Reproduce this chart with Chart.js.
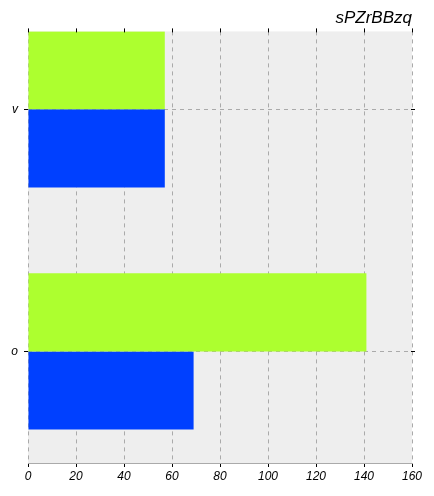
<!DOCTYPE html>
<html>
<head>
<meta charset="utf-8">
<script src="https://cdn.jsdelivr.net/npm/chart.js@4/dist/chart.umd.min.js"></script>
<style>
html,body{margin:0;padding:0;background:#fff;}
#wrap{width:434px;height:496px;}
</style>
</head>
<body>
<div id="wrap"><canvas id="c" width="434" height="496"></canvas></div>
<script>
const categories = ['v', 'o'];
const seriesGreen = [57, 141];
const seriesBlue = [57, 69];
const xTicks = [0, 20, 40, 60, 80, 100, 120, 140, 160];
const titleText = 'sPZrBBzq';

const FONT = '"Liberation Sans", Arial, sans-serif';

const bgPlugin = {
  id: 'bg',
  beforeDraw(chart) {
    const {ctx, chartArea: a} = chart;
    ctx.save();
    ctx.fillStyle = '#eeeeee';
    ctx.fillRect(a.left, a.top, a.right - a.left, a.bottom - a.top);
    ctx.restore();
  },
  afterDraw(chart) {
    const {ctx, chartArea: a} = chart;
    const xs = chart.scales.x, ys = chart.scales.y;
    ctx.save();
    ctx.strokeStyle = '#000';
    ctx.lineWidth = 1;
    ctx.beginPath();
    xTicks.forEach(v => {
      const px = Math.round(xs.getPixelForValue(v)) + 0.5;
      ctx.moveTo(px, a.top - 3);
      ctx.lineTo(px, a.top + 1);
    });
    categories.forEach((c, i) => {
      const py = Math.round(ys.getPixelForValue(i)) + 0.5;
      ctx.moveTo(a.right - 1, py);
      ctx.lineTo(a.right + 3, py);
    });
    ctx.stroke();
    ctx.restore();
  }
};

const toXY = arr => arr.map((v, i) => ({x: v, y: i}));

new Chart(document.getElementById('c'), {
  type: 'bar',
  data: {
    datasets: [
      {label: 'a', data: toXY(seriesGreen), backgroundColor: '#adff2f', borderWidth: 0},
      {label: 'b', data: toXY(seriesBlue), backgroundColor: '#0040ff', borderWidth: 0}
    ]
  },
  options: {
    indexAxis: 'y',
    responsive: false,
    animation: false,
    devicePixelRatio: 1,
    categoryPercentage: 0.645,
    barPercentage: 1,
    layout: {padding: {left: 0, right: 22, top: 0, bottom: 0}},
    plugins: {
      legend: {display: false},
      tooltip: {enabled: false},
      title: {
        display: true,
        text: titleText,
        align: 'end',
        color: '#000',
        font: {family: FONT, size: 17, style: 'italic', weight: 'normal', lineHeight: 1.2},
        padding: {top: 8, bottom: 3}
      }
    },
    scales: {
      x: {
        type: 'linear',
        min: 0,
        max: 160,
        z: 1,
        afterBuildTicks(s) { s.ticks = xTicks.map(v => ({value: v})); },
        afterFit(s) { s.height = 33; },
        ticks: {
          color: '#000',
          padding: 2,
          maxRotation: 0,
          font: {family: FONT, size: 12, style: 'italic'}
        },
        grid: {
          color: '#aaaaaa',
          tickColor: '#000',
          tickLength: 4,
          lineWidth: 1
        },
        border: {display: true, color: '#aaaaaa', dash: [4, 4]}
      },
      y: {
        type: 'linear',
        reverse: true,
        offset: false,
        min: -0.322,
        max: 1.461,
        z: 1,
        afterBuildTicks(s) { s.ticks = categories.map((c, i) => ({value: i})); },
        afterFit(s) { s.width = 28; },
        ticks: {
          color: '#000',
          padding: 6,
          font: {family: FONT, size: 12, style: 'italic'},
          callback: (v) => categories[v] !== undefined ? categories[v] : ''
        },
        grid: {
          offset: false,
          color: '#aaaaaa',
          tickColor: '#000',
          tickLength: 4,
          lineWidth: 1
        },
        border: {display: false, dash: [4, 4]}
      }
    }
  },
  plugins: [bgPlugin]
});
</script>
</body>
</html>
